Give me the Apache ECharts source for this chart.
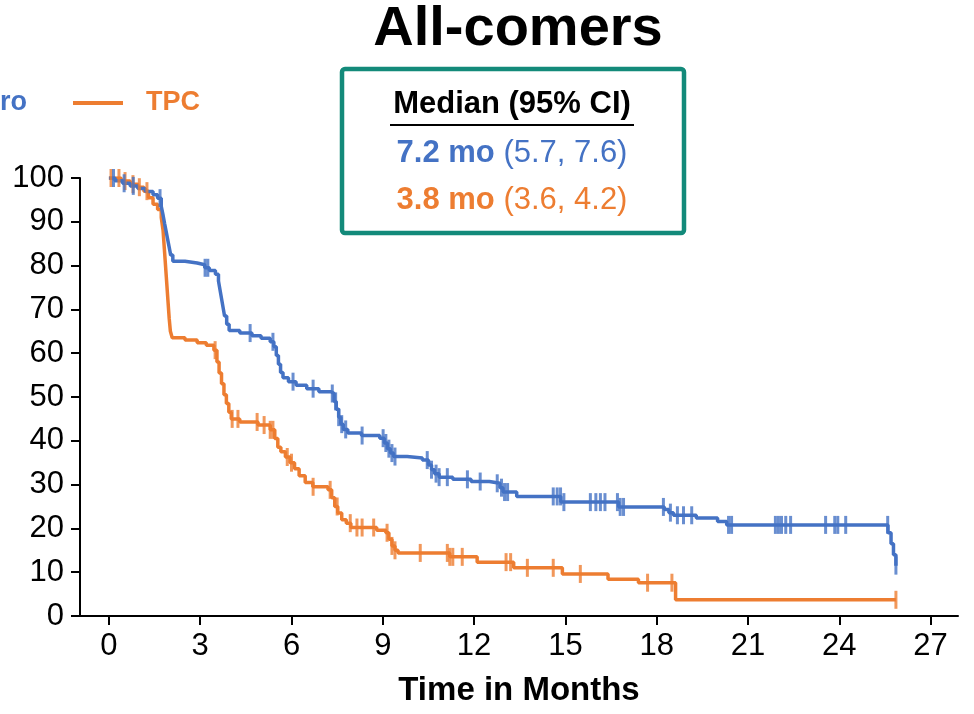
<!DOCTYPE html>
<html><head><meta charset="utf-8">
<script src="https://cdn.jsdelivr.net/npm/echarts@6/dist/echarts.min.js"></script>
<style>html,body{margin:0;padding:0;background:#fff}#c{width:974px;height:714px}</style>
</head><body><div id="c"></div>
<script>
// ---- data ----
const xTicks = [0, 3, 6, 9, 12, 15, 18, 21, 24, 27];
const blueTimes = [0,0.2,0.45,0.7,0.95,1.2,1.45,1.6,1.72,1.78,1.83,1.88,1.93,1.98,2.03,2.1,2.5,2.9,3.15,3.3,3.5,3.6,3.65,3.7,3.75,3.8,3.87,3.95,4.3,4.7,5.0,5.3,5.42,5.5,5.57,5.64,5.72,5.9,6.15,6.5,6.9,7.3,7.4,7.47,7.55,7.62,7.7,7.85,8.3,8.9,9.05,9.15,9.25,9.35,9.8,10.3,10.5,10.6,10.7,10.85,11.3,11.9,12.5,12.85,12.95,13.4,14.85,16.75,18.25,18.4,18.55,19.3,20.0,20.3,25.6,25.7,25.78,25.86];
const blueSurv  = [100,99.4,98.8,98.2,97.6,96.9,96.2,95.4,93.5,91.5,89.6,87.8,86,84.2,82.4,81,80.6,80.2,79.5,78.9,78,76.5,74.5,72.5,70.5,68.5,66.6,65.2,64.6,64,63.4,62.6,61.5,59.5,57.5,55.6,54.4,53.5,52.7,51.9,51.2,50.8,49,47.2,45.4,43.8,42.6,41.8,41.2,40.6,39.5,38.2,37.2,36.4,36.1,35.6,34.5,33.4,32.5,31.7,31.2,30.7,30.3,29.3,28.3,27.3,26.0,24.9,24.3,23.6,23.0,22.4,21.6,20.8,19,16.5,14,11.5];
const blueCensor = [0.15,0.5,0.8,1.68,3.16,3.25,4.64,5.39,6.05,6.71,7.34,7.45,7.55,7.65,7.78,8.32,9.01,9.1,9.2,9.3,9.4,10.46,10.6,10.75,10.85,11.12,11.78,12.2,12.76,12.9,13.0,13.1,14.6,14.73,14.84,14.95,15.82,16.0,16.15,16.3,16.71,16.8,16.91,18.22,18.45,18.68,18.88,19.15,20.36,20.46,21.9,22.0,22.1,22.24,22.4,23.55,23.85,23.95,24.21,25.59,25.86];
const orangeTimes = [0,0.4,0.7,0.95,1.15,1.3,1.45,1.6,1.72,1.78,1.82,1.86,1.9,1.94,1.98,2.02,2.08,2.5,2.9,3.2,3.45,3.55,3.62,3.7,3.78,3.86,3.94,4.02,4.3,4.9,5.3,5.45,5.55,5.65,5.8,5.95,6.1,6.25,6.45,6.7,7.2,7.32,7.42,7.52,7.65,7.8,7.95,8.8,9.1,9.2,9.3,9.4,9.5,11.2,12.1,13.3,14.9,16.4,17.4,18.62,25.86];
const orangeSurv  = [100,99.3,98.6,97.9,97,95.5,94,92.8,91,88,84,80,76,72,68,65,63.5,63,62.4,61.8,60.7,58,55.5,53,50.5,48.5,46.5,45,44.3,43.6,42.5,40.5,38.5,37.5,36.3,35,33.6,32,30.5,29.5,28.8,27,25,23.5,22,21.2,20.2,19.6,19,17.5,16,15,14.4,13.5,12.3,11,9.6,8.4,7.6,3.7,3.7];
const orangeCensor = [0.07,0.33,0.53,0.79,1.0,1.25,3.49,4.05,4.24,4.87,5.1,5.3,5.39,5.86,6.0,6.71,7.27,7.5,7.93,8.15,8.32,8.7,9.14,9.3,9.4,10.23,11.12,11.2,11.3,11.61,13.05,13.2,13.75,14.6,15.49,17.7,18.5,25.86];
const blueName = 'ro';
const orangeName = 'TPC';
const medianHeader = 'Median (95% CI)';
const blueMedian = ['7.2 mo', '(5.7, 7.6)'];
const orangeMedian = ['3.8 mo', '(3.6, 4.2)'];
const titleText = 'All-comers';
const xName = 'Time in Months';

// ---- helpers ----
const BLUE = '#4472C4', ORANGE = '#ED7D31', TEAL = '#138A7A';
const FONT = '"Liberation Sans", Arial, sans-serif';
function pairs(ts, ss){ return ts.map((t,i)=>[t, ss[i]]); }
function survAt(ts, ss, t){ let v = ss[0]; for (let i=0;i<ts.length;i++){ if (ts[i] <= t) v = ss[i]; } return v; }

const chart = echarts.init(document.getElementById('c'), null, {renderer:'canvas'});
chart.setOption({
  animation: false,
  backgroundColor: '#fff',
  grid: {left: 80, right: 16, top: 178, bottom: 98, containLabel: false},
  xAxis: {
    type: 'value', min: -0.95, max: 27.9,
    axisLine: {show: true, onZero: false, lineStyle: {color: '#000', width: 2}},
    axisTick: {show: true, customValues: xTicks, length: 9, lineStyle: {color: '#000', width: 2}},
    axisLabel: {customValues: xTicks, fontSize: 31, color: '#000', margin: 15, fontFamily: FONT},
    splitLine: {show: false},
    name: xName, nameLocation: 'middle', nameGap: 58,
    nameTextStyle: {fontSize: 33, fontWeight: 'bold', color: '#000', fontFamily: FONT}
  },
  yAxis: {
    type: 'value', min: 0, max: 100, interval: 10,
    axisLine: {show: true, onZero: false, lineStyle: {color: '#000', width: 2}},
    axisTick: {show: true, length: 9, lineStyle: {color: '#000', width: 2}},
    axisLabel: {fontSize: 31, color: '#000', margin: 16, fontFamily: FONT},
    splitLine: {show: false}
  },
  series: [
    {name: orangeName, type: 'line', step: 'end', showSymbol: false, data: pairs(orangeTimes, orangeSurv),
     lineStyle: {color: ORANGE, width: 3.5}, itemStyle: {color: ORANGE}, z: 2},
    {name: blueName, type: 'line', step: 'end', showSymbol: false, data: pairs(blueTimes, blueSurv),
     lineStyle: {color: BLUE, width: 3.5}, itemStyle: {color: BLUE}, z: 3},
    {type: 'scatter', symbol: 'rect', symbolSize: [3, 18], itemStyle: {color: ORANGE},
     data: orangeCensor.map(t => [t, survAt(orangeTimes, orangeSurv, t)]), z: 4},
    {type: 'scatter', symbol: 'rect', symbolSize: [3, 18], itemStyle: {color: BLUE},
     data: blueCensor.map(t => [t, survAt(blueTimes, blueSurv, t)]), z: 5}
  ],
  graphic: [
    {type: 'text', x: 518, y: 30, style: {text: titleText, font: 'bold 56px ' + FONT, fill: '#000',
      align: 'center', verticalAlign: 'middle', textAlign: 'center', textVerticalAlign: 'middle'}},
    {type: 'text', x: 0, y: 103, style: {text: blueName, font: 'bold 27px ' + FONT, fill: BLUE,
      align: 'left', verticalAlign: 'middle', textAlign: 'left', textVerticalAlign: 'middle'}},
    {type: 'line', shape: {x1: 73, y1: 103, x2: 123, y2: 103}, style: {stroke: ORANGE, lineWidth: 4}},
    {type: 'text', x: 146, y: 103, style: {text: orangeName, font: 'bold 27px ' + FONT, fill: ORANGE,
      align: 'left', verticalAlign: 'middle', textAlign: 'left', textVerticalAlign: 'middle'}},
    {type: 'rect', shape: {x: 342, y: 69, width: 342, height: 164, r: 3},
      style: {fill: '#fff', stroke: TEAL, lineWidth: 4.5}, z: 10},
    {type: 'text', x: 512, y: 104, z: 11, style: {text: medianHeader, font: 'bold 31px ' + FONT, fill: '#000',
      align: 'center', verticalAlign: 'middle', textAlign: 'center', textVerticalAlign: 'middle'}},
    {type: 'line', z: 11, shape: {x1: 390, y1: 125, x2: 634, y2: 125}, style: {stroke: '#000', lineWidth: 2}},
    {type: 'text', x: 512, y: 153, z: 11, style: {
      text: '{b|' + blueMedian[0] + ' }{n|' + blueMedian[1] + '}',
      align: 'center', verticalAlign: 'middle', textAlign: 'center', textVerticalAlign: 'middle',
      rich: {b: {font: 'bold 31px ' + FONT, fill: BLUE, color: BLUE}, n: {font: '31px ' + FONT, fill: BLUE, color: BLUE}}}},
    {type: 'text', x: 512, y: 200, z: 11, style: {
      text: '{b|' + orangeMedian[0] + ' }{n|' + orangeMedian[1] + '}',
      align: 'center', verticalAlign: 'middle', textAlign: 'center', textVerticalAlign: 'middle',
      rich: {b: {font: 'bold 31px ' + FONT, fill: ORANGE, color: ORANGE}, n: {font: '31px ' + FONT, fill: ORANGE, color: ORANGE}}}}
  ]
});
</script></body></html>
